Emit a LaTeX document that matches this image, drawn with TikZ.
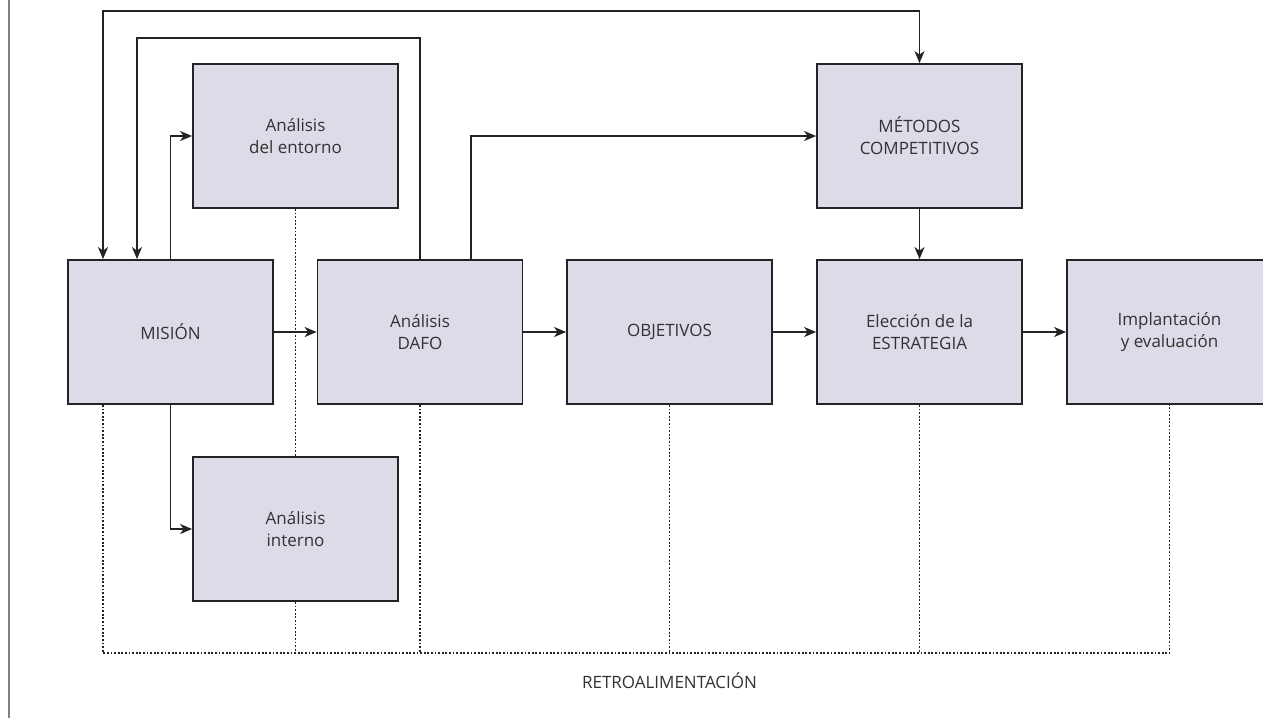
\documentclass[tikz,border=0pt]{standalone}
\usepackage{fontspec}
\setmainfont{Open Sans}
\usepackage{xcolor}
\usetikzlibrary{calc}
\usetikzlibrary{arrows.meta}
\definecolor{boxfill}{RGB}{220,220,232}
\definecolor{ink}{RGB}{35,35,35}
\definecolor{txt}{RGB}{50,50,50}

\begin{document}
\begin{tikzpicture}[x=1pt,y=-1pt,
  >={Stealth[length=12pt,width=10pt,inset=3.5pt]},
  caja/.style={draw=ink,line width=1.8pt,fill=boxfill,minimum width=205pt,minimum height=144pt,
    inner sep=0pt,align=center,text=txt,font=\fontsize{17}{22}\selectfont},
  flecha/.style={draw=ink,line width=1.6pt,->},
  punteada/.style={draw=ink,line width=1.6pt,dash pattern=on 1.8pt off 1.8pt}]
		\clip (0,0) rectangle (1263,718);
		\draw[gray,line width=1.6pt] (9,0) -- (9,718);
		\node[caja] (mision) at (170.5,332) {MISIÓN};
		\node[caja] (entorno) at (295.5,136) {Análisis\\del entorno};
		\node[caja] (interno) at (295.5,529) {Análisis\\interno};
		\node[caja] (dafo) at (420,332) {Análisis\\DAFO};
		\node[caja] (obj) at (669.5,332) {OBJETIVOS};
		\node[caja] (metodos) at (919.5,136) {MÉTODOS\\COMPETITIVOS};
		\node[caja] (eleccion) at (919.5,332) {Elección de la\\ESTRATEGIA};
		\node[caja] (impl) at (1169.5,332) {Implantación\\y evaluación};
		\coordinate (r1) at (103,11);
		\coordinate (r2) at (137,38);
		\coordinate (ba) at (103,653);
		\draw[flecha,<->] (r1 |- mision.north) -- (r1) -| (metodos.north);
		\draw[flecha] (dafo.north) |- (r2) -- (r2 |- mision.north);
		\draw[flecha] ($(dafo.north)+(51,0)$) |- (metodos.west);
		\draw[flecha] (mision.north) |- (entorno.west);
		\draw[flecha] (mision.south) |- (interno.west);
		\draw[flecha] (mision) -- (dafo);
		\draw[flecha] (dafo) -- (obj);
		\draw[flecha] (obj) -- (eleccion);
		\draw[flecha] (eleccion) -- (impl);
		\draw[flecha] (metodos) -- (eleccion);
		\draw[punteada] (ba |- mision.south) -- (ba) -| (impl.south);
		\draw[punteada] (entorno.south) -- (interno.north);
		\draw[punteada] (interno.south) -- (interno.south |- ba);
		\foreach \n in {dafo,obj,eleccion}
			\draw[punteada] (\n.south) -- (\n.south |- ba);
		\node[anchor=base,text=txt,font=\fontsize{17}{22}\selectfont] (retro) at (669.5,688) {RETROALIMENTACIÓN};
	\end{tikzpicture}
\end{document}
